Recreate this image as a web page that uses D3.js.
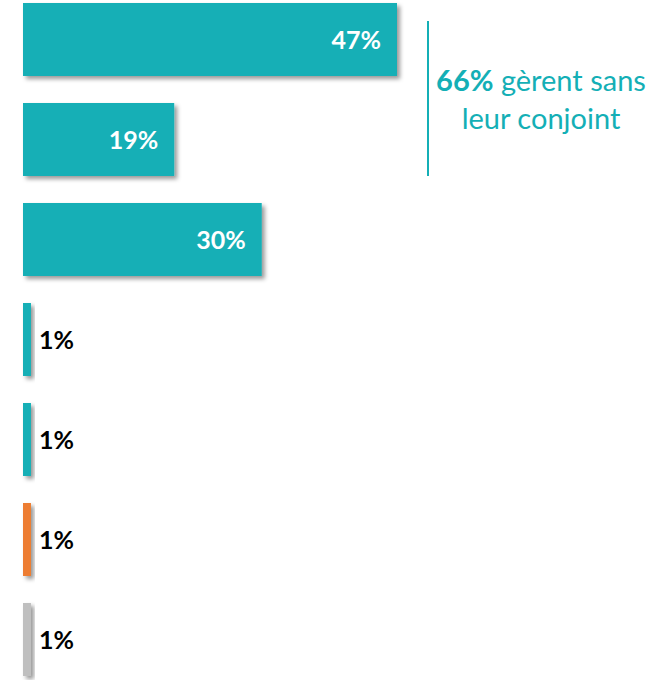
<!DOCTYPE html>
<html>
<head>
<meta charset="utf-8">
<script src="https://cdn.jsdelivr.net/npm/d3@7"></script>
<style>
  body { margin: 0; background: #fff; }
  svg { display: block; }
  .lbl { font-family: Lato, 'Open Sans', sans-serif; font-weight: 700; font-size: 25px; }
  .note { font-family: Lato, 'Open Sans', sans-serif; font-size: 29px; fill: #14afb6; }
</style>
</head>
<body>
<svg id="svg" width="660" height="680"></svg>
<script>
const categories = ['a', 'b', 'c', 'd', 'e', 'f', 'g']
const values = [47, 19, 30, 1, 1, 1, 1]
const colors = ['#14afb6', '#14afb6', '#14afb6', '#14afb6', '#14afb6', '#ed7d31', '#bfbfbf']
const noteBold = '66%'
const noteLines = ['gèrent sans', 'leur conjoint']

const svg = d3.select('svg')

const x = d3.scaleLinear().domain([0, 47]).range([23, 397])
const y = d3.scaleBand().domain(categories).range([3, 676]).paddingInner(0.27).paddingOuter(0)

const defs = svg.append('defs')
const f = defs.append('filter').attr('id', 'shadow')
  .attr('x', '-20%').attr('y', '-20%').attr('width', '160%').attr('height', '160%')
f.append('feDropShadow')
  .attr('dx', 3).attr('dy', 3).attr('stdDeviation', 2.2)
  .attr('flood-color', '#000').attr('flood-opacity', 0.4)

const bars = svg.selectAll('g.bar')
  .data(categories)
  .enter().append('g')
  .attr('class', 'bar')

bars.append('rect')
  .attr('x', x(0))
  .attr('y', d => y(d))
  .attr('width', (d, i) => x(values[i]) - x(0))
  .attr('height', y.bandwidth())
  .attr('fill', (d, i) => colors[i])
  .attr('filter', 'url(#shadow)')

bars.append('text')
  .attr('class', 'lbl')
  .attr('x', (d, i) => values[i] > 5 ? x(values[i]) - 16 : x(values[i]) + 8)
  .attr('y', d => y(d) + y.bandwidth() / 2)
  .attr('dy', '0.36em')
  .attr('text-anchor', (d, i) => values[i] > 5 ? 'end' : 'start')
  .attr('fill', (d, i) => values[i] > 5 ? '#fff' : '#000')
  .text((d, i) => values[i] + '%')

// bracket for the first two bars
svg.append('line')
  .attr('x1', 428).attr('x2', 428)
  .attr('y1', 21).attr('y2', y(categories[1]) + y.bandwidth())
  .attr('stroke', '#14afb6').attr('stroke-width', 2)

const note = svg.append('text')
  .attr('class', 'note')
  .attr('text-anchor', 'middle')
  .attr('x', 541)
  .attr('y', 91)
note.append('tspan').attr('font-weight', 700).text(noteBold)
note.append('tspan').text(' ' + noteLines[0])
svg.append('text')
  .attr('class', 'note')
  .attr('text-anchor', 'middle')
  .attr('x', 541)
  .attr('y', 129)
  .text(noteLines[1])
</script>
</body>
</html>
